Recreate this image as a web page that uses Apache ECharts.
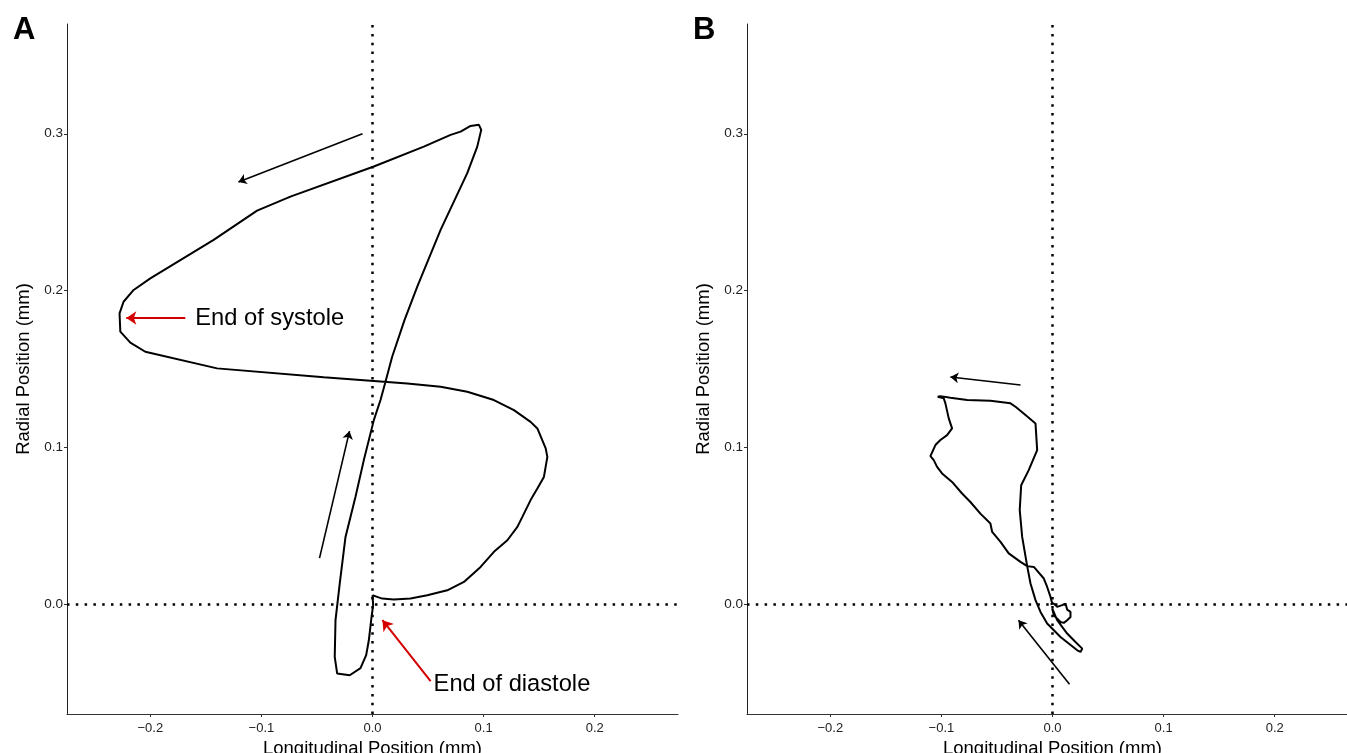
<!DOCTYPE html>
<html>
<head>
<meta charset="utf-8">
<script src="https://cdn.jsdelivr.net/npm/echarts@6/dist/echarts.min.js"></script>
<style>
html,body{margin:0;padding:0;background:#fff;}
#c{width:1347px;height:753px;}
</style>
</head>
<body>
<div id="c"></div>
<script>
// ---- data (mm) ----
const xTicks = [-0.2, -0.1, 0, 0.1, 0.2];
const yTicks = [0, 0.1, 0.2, 0.3];
const panelLabels = ['A', 'B'];
const xTitle = 'Longitudinal Position (mm)';
const yTitle = 'Radial Position (mm)';

const pathAx = [0,0.0006,-0.0009,-0.0033,-0.0057,-0.0108,-0.0205,-0.0318,-0.0340,-0.0333,-0.0295,-0.0243,-0.0153,-0.0078,0.0012,0.0072,0.0117,0.0177,0.0288,0.0403,0.0613,0.0853,0.0943,0.0979,0.0958,0.0883,0.0793,0.0703,0.0462,0.0012,-0.0739,-0.1039,-0.1430,-0.2000,-0.2150,-0.2241,-0.2277,-0.2270,-0.2180,-0.2045,-0.1399,-0.0439,0.0102,0.0313,0.0613,0.0853,0.1093,0.1273,0.1423,0.1484,0.1559,0.1574,0.1543,0.1484,0.1423,0.1349,0.1304,0.1214,0.1093,0.0973,0.0823,0.0673,0.0493,0.0342,0.0192,0.0087,0.0042,0];
const pathAy = [0.0057,-0.0006,-0.0083,-0.0230,-0.0325,-0.0408,-0.0453,-0.0442,-0.0336,-0.0102,0.0132,0.0429,0.0685,0.0919,0.1174,0.1302,0.1419,0.1578,0.1812,0.2025,0.2387,0.2749,0.2918,0.3025,0.3057,0.3050,0.3014,0.2993,0.2918,0.2791,0.2599,0.2510,0.2323,0.2078,0.2004,0.1929,0.1855,0.1738,0.1668,0.1610,0.1504,0.1447,0.1419,0.1408,0.1387,0.1355,0.1302,0.1238,0.1163,0.1121,0.0994,0.0940,0.0812,0.0738,0.0664,0.0557,0.0493,0.0408,0.0334,0.0238,0.0142,0.0089,0.0057,0.0036,0.0030,0.0036,0.0047,0.0057];

const pathBx = [-0.0018,0.0012,0.0042,0.0087,0.0117,0.0132,0.0162,0.0162,0.0132,0.0102,0.0072,0.0012,-0.0003,-0.0018,0.0042,0.0132,0.0207,0.0268,0.0252,0.0223,0.0072,-0.0048,-0.0108,-0.0153,-0.0198,-0.0228,-0.0273,-0.0295,-0.0282,-0.0214,-0.0138,-0.0153,-0.0243,-0.0333,-0.0378,-0.0559,-0.0768,-0.0919,-0.1009,-0.1033,-0.0979,-0.0964,-0.0934,-0.0904,-0.0949,-0.1009,-0.1054,-0.1099,-0.1069,-0.1039,-0.0994,-0.0904,-0.0814,-0.0739,-0.0649,-0.0559,-0.0543,-0.0468,-0.0394,-0.0288,-0.0228,-0.0168,-0.0078,-0.0048,-0.0018,-0.0003];
const pathBy = [0,0.0004,-0.0017,-0.0006,0.0004,-0.0034,-0.0049,-0.0081,-0.0102,-0.0119,-0.0113,-0.0070,-0.0027,-0.0017,-0.0102,-0.0187,-0.0241,-0.0283,-0.0304,-0.0294,-0.0209,-0.0123,-0.0049,0.0026,0.0132,0.0243,0.0429,0.0600,0.0759,0.0855,0.0983,0.1153,0.1206,0.1259,0.1281,0.1297,0.1302,0.1317,0.1327,0.1323,0.1313,0.1281,0.1185,0.1121,0.1078,0.1047,0.1015,0.0944,0.0919,0.0876,0.0834,0.0780,0.0706,0.0652,0.0578,0.0515,0.0461,0.0398,0.0324,0.0270,0.0243,0.0238,0.0164,0.0110,0.0047,0.0004];

// direction arrows: [xStart, yStart, xEnd, yEnd]
const arrowsA = [[-0.0090, 0.3000, -0.1207, 0.2693], [-0.0477, 0.0294, -0.0207, 0.1104]];
const arrowsB = [[-0.0288, 0.1398, -0.0919, 0.1449], [0.0153, -0.0511, -0.0306, -0.0102]];
// annotated events: [xStart, yStart, xEnd, yEnd]
const redArrowsA = [[-0.1685, 0.1825, -0.2216, 0.1825], [0.0523, -0.0491, 0.0090, -0.0102]];
const noteTextA = ['End of systole', 'End of diastole'];
const notePosA = [[-0.1595, 0.1825], [0.0550, -0.0511]];

// ---- chart ----
const FONT = '"Liberation Sans", Arial, sans-serif';
const chart = echarts.init(document.getElementById('c'), null, {renderer: 'canvas'});
const fmt = v => (v < 0 ? '\u2212' : '') + Math.abs(v).toFixed(1);
const zip = (xs, ys) => xs.map((x, i) => [x, ys[i]]);

function xAxisFor(idx) {
  return {
    type: 'value', gridIndex: idx, min: -0.275, max: 0.275,
    name: xTitle, nameLocation: 'middle', nameGap: 22,
    nameTextStyle: {fontFamily: FONT, fontSize: 18.5, color: '#000'},
    axisLine: {show: true, onZero: false, lineStyle: {color: '#333', width: 1}},
    axisTick: {show: true, length: 3, customValues: xTicks, lineStyle: {color: '#333'}},
    axisLabel: {customValues: xTicks, formatter: fmt, fontFamily: FONT, fontSize: 13, color: '#222', margin: 8},
    splitLine: {show: false}
  };
}
function yAxisFor(idx) {
  return {
    type: 'value', gridIndex: idx, min: -0.07, max: 0.37,
    name: yTitle, nameLocation: 'middle', nameGap: 34,
    nameTextStyle: {fontFamily: FONT, fontSize: 18.5, color: '#000'},
    axisLine: {show: true, onZero: false, lineStyle: {color: '#222', width: 1}},
    axisTick: {show: true, length: 3, customValues: yTicks, lineStyle: {color: '#333'}},
    axisLabel: {customValues: yTicks, formatter: fmt, fontFamily: FONT, fontSize: 13.5, color: '#222', margin: 4},
    splitLine: {show: false}
  };
}
const dotted = {
  silent: true, symbol: 'none', label: {show: false},
  lineStyle: {color: '#000', width: 2.5, type: [2.5, 6.3], cap: 'butt'},
  emphasis: {disabled: true},
  data: [{xAxis: 0}, {yAxis: 0}]
};
function arrowLines(list, color, width, size) {
  return {
    silent: true, symbol: ['none', 'arrow'], symbolSize: size, label: {show: false},
    emphasis: {disabled: true},
    lineStyle: {color: color, width: width, type: 'solid'},
    data: list.map(a => [{coord: [a[0], a[1]]}, {coord: [a[2], a[3]]}])
  };
}

const option = {
  animation: false,
  backgroundColor: '#fff',
  title: [
    {text: panelLabels[0], left: 13, top: 15, padding: 0, textStyle: {fontFamily: FONT, fontSize: 31, fontWeight: 'bold', color: '#000'}},
    {text: panelLabels[1], left: 693, top: 15, padding: 0, textStyle: {fontFamily: FONT, fontSize: 31, fontWeight: 'bold', color: '#000'}}
  ],
  grid: [
    {left: 67, top: 24, width: 611, height: 690, outerBoundsMode: 'none', containLabel: false},
    {left: 747, top: 24, width: 611, height: 690, outerBoundsMode: 'none', containLabel: false}
  ],
  xAxis: [xAxisFor(0), xAxisFor(1)],
  yAxis: [yAxisFor(0), yAxisFor(1)],
  series: [
    {type: 'line', xAxisIndex: 0, yAxisIndex: 0, data: [], markLine: dotted},
    {type: 'line', xAxisIndex: 1, yAxisIndex: 1, data: [], markLine: dotted},
    {type: 'line', xAxisIndex: 0, yAxisIndex: 0, data: zip(pathAx, pathAy), showSymbol: false, symbol: 'none',
     lineStyle: {color: '#000', width: 2}, silent: true,
     markLine: arrowLines(arrowsA, '#000', 1.6, 8)},
    {type: 'line', xAxisIndex: 1, yAxisIndex: 1, data: zip(pathBx, pathBy), showSymbol: false, symbol: 'none',
     lineStyle: {color: '#000', width: 2}, silent: true,
     markLine: arrowLines(arrowsB, '#000', 1.6, 8)},
    {type: 'scatter', xAxisIndex: 0, yAxisIndex: 0, symbolSize: 0, silent: true,
     data: notePosA.map((p, i) => ({value: p, name: noteTextA[i]})),
     label: {show: true, position: 'right', distance: 0, formatter: '{b}', fontFamily: FONT, fontSize: 23.7, color: '#000', opacity: 1},
     markLine: arrowLines(redArrowsA, '#d40000', 2, 10)}
  ]
};
chart.setOption(option);
</script>
</body>
</html>
